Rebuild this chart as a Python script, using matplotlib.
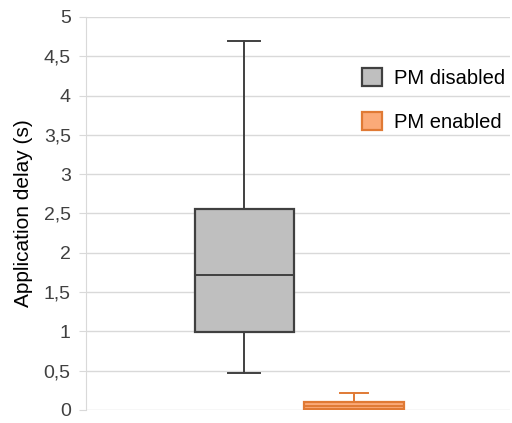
import matplotlib.pyplot as plt
from matplotlib.patches import Patch
from matplotlib.ticker import FuncFormatter

# box statistics (seconds)
labels = ["PM disabled", "PM enabled"]
whislo = [0.47, 0.0]
q1 = [0.99, 0.01]
med = [1.72, 0.05]
q3 = [2.56, 0.10]
whishi = [4.69, 0.22]

faces = ["#BFBFBF", "#FBAA78"]
edges = ["#404040", "#E07A35"]

plt.rcParams['font.family'] = ['Liberation Sans', 'DejaVu Sans']

fig = plt.figure(figsize=(5.12, 4.23), dpi=100)
ax = fig.add_axes([0.168, 0.031, 0.828, 0.929])

stats = []
for i in range(len(labels)):
    stats.append(dict(label=labels[i], whislo=whislo[i], q1=q1[i], med=med[i],
                      q3=q3[i], whishi=whishi[i], fliers=[]))

positions = [0.873, 1.132]
for i, st in enumerate(stats):
    ax.bxp([st], positions=[positions[i]], widths=0.234, capwidths=0.075 if i == 0 else 0.066,
           patch_artist=True, manage_ticks=False,
           boxprops=dict(facecolor=faces[i], edgecolor=edges[i], linewidth=1.6),
           medianprops=dict(color=edges[i], linewidth=1.4),
           whiskerprops=dict(color=edges[i], linewidth=1.4),
           capprops=dict(color=edges[i], linewidth=1.4))

ax.set_xlim(0.5, 1.5)
ax.set_ylim(0, 5)
ax.set_yticks([i * 0.5 for i in range(11)])
ax.yaxis.set_major_formatter(FuncFormatter(lambda v, p: ('%g' % v).replace('.', ',')))
ax.set_xticks([])
ax.grid(axis='y', color='#D9D9D9', linewidth=1)
ax.set_axisbelow(True)
for s in ['top', 'right', 'bottom']:
    ax.spines[s].set_visible(False)
ax.spines['left'].set_color('#D9D9D9')
ax.tick_params(axis='y', length=5, color='#D9D9D9', labelsize=14, labelcolor='#404040', pad=6)
ax.set_ylabel("Application delay (s)", fontsize=15, color='black', labelpad=8)

handles = [Patch(facecolor=faces[i], edgecolor=edges[i], linewidth=1.6, label=labels[i])
           for i in range(len(labels))]
ax.legend(handles=handles, loc='upper right', bbox_to_anchor=(1.031, 0.917), frameon=False,
          fontsize=14.5, labelspacing=1.22, handlelength=1.0, handleheight=1.0, handletextpad=0.6)

fig.savefig("out.png", dpi=100)
